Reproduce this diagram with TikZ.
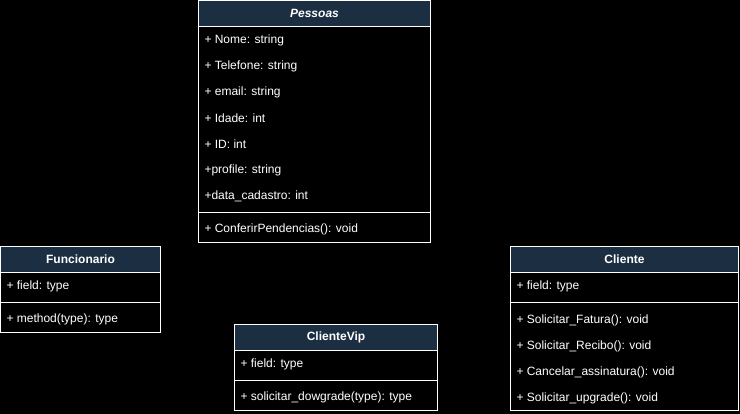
\documentclass[tikz,border=0pt]{standalone}
\usepackage{fontspec}
\setmainfont{Liberation Sans}
\definecolor{headblue}{RGB}{28,47,66}

\tikzset{every picture/.style={line width=0.75pt}}
\tikzset{
  classhead/.style={text=white, font=\fontsize{9}{11}\selectfont\bfseries, inner sep=0pt},
  member/.style={anchor=west, text=white, font=\fontsize{9}{11}\selectfont, inner sep=0pt}
}

\begin{document}
\begin{tikzpicture}[x=0.75pt,y=0.75pt,yscale=-1,xscale=1]
%set diagram: 740 x 414 on black
\fill[black] (0,0) rectangle (740,414);

%Class: Pessoas
\draw[white, fill=headblue] (198.5,0.5) rectangle (430.5,26);
\draw[white] (198.5,26) rectangle (430.5,242);
\draw[white] (198.5,212) -- (430.5,212);
\node[classhead] (pessoas) at (314.5,13.5) {\itshape Pessoas};
\node[member] (nome) at (204,40) {+ Nome: string};
\node[member] (telefone) at (204,66) {+ Telefone: string};
\node[member] (email) at (204,92) {+ email: string};
\node[member] (idade) at (204,118) {+ Idade: int};
\node[member] (id) at (204,144) {+ ID: int};
\node[member] (profile) at (204,170) {+profile: string};
\node[member] (cadastro) at (204,196) {+data\_cadastro: int};
\node[member] (pendencias) at (204,229) {+ ConferirPendencias(): void};

%Class: Funcionario
\draw[white, fill=headblue] (0.5,246.5) rectangle (160.5,272);
\draw[white] (0.5,272) rectangle (160.5,332);
\draw[white] (0.5,302) -- (160.5,302);
\node[classhead] (funcionario) at (80.5,259.5) {Funcionario};
\node[member] (funcfield) at (6,286) {+ field: type};
\node[member] (funcmethod) at (6,319) {+ method(type): type};

%Class: ClienteVip
\draw[white, fill=headblue] (234.5,324.5) rectangle (437.5,350);
\draw[white] (234.5,350) rectangle (437.5,410);
\draw[white] (234.5,380) -- (437.5,380);
\node[classhead] (clientevip) at (336,337.5) {ClienteVip};
\node[member] (vipfield) at (240,364) {+ field: type};
\node[member] (dowgrade) at (240,397) {+ solicitar\_dowgrade(type): type};

%Class: Cliente
\draw[white, fill=headblue] (510.5,246.5) rectangle (738.5,272);
\draw[white] (510.5,272) rectangle (738.5,410);
\draw[white] (510.5,302) -- (738.5,302);
\node[classhead] (cliente) at (624.5,259.5) {Cliente};
\node[member] (clifield) at (516,286) {+ field: type};
\node[member] (fatura) at (516,320) {+ Solicitar\_Fatura(): void};
\node[member] (recibo) at (516,346) {+ Solicitar\_Recibo(): void};
\node[member] (cancelar) at (516,372) {+ Cancelar\_assinatura(): void};
\node[member] (upgrade) at (516,398) {+ Solicitar\_upgrade(): void};

\end{tikzpicture}
\end{document}
